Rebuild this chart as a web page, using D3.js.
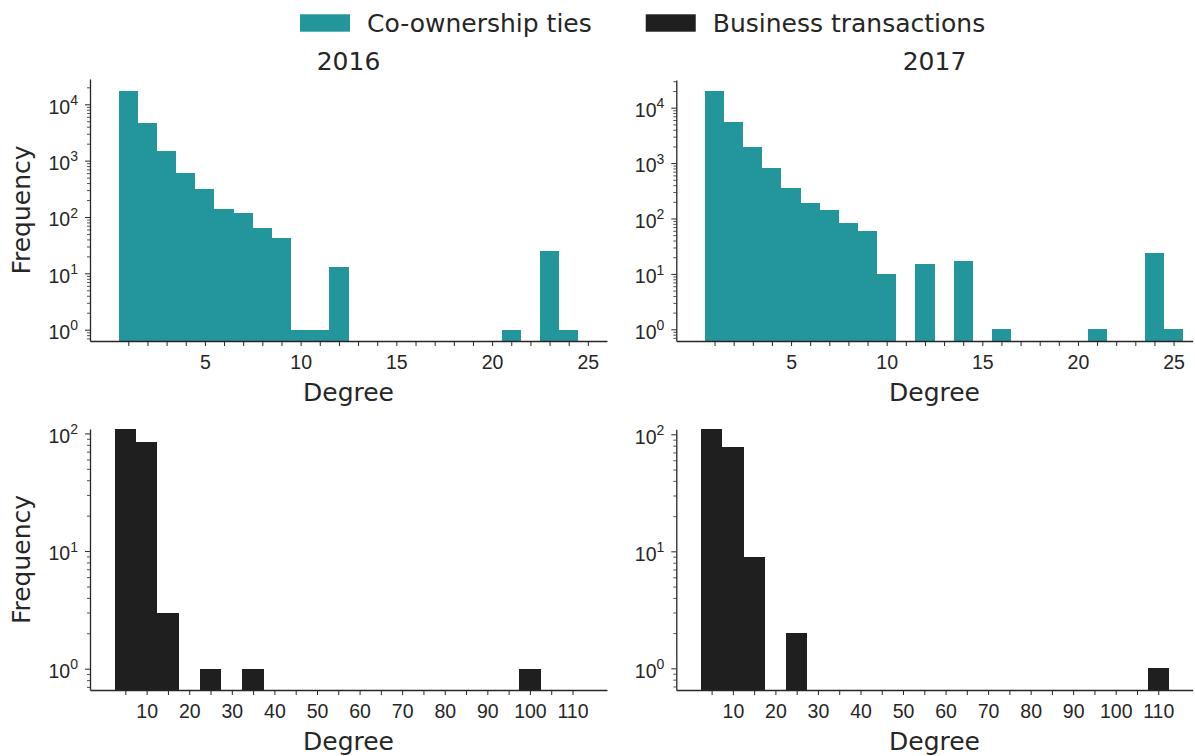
<!DOCTYPE html>
<html>
<head>
<meta charset="utf-8">
<script src="https://cdn.jsdelivr.net/npm/d3@7"></script>
<style>
  body { margin: 0; background: #fff; }
  svg { font-family: "DejaVu Sans", sans-serif; }
</style>
</head>
<body>
<svg id="chart" width="1195" height="756"></svg>
<script>
// co-ownership ties: degree (bin centre) and frequency
const ownDeg2016 = [1, 2, 3, 4, 5, 6, 7, 8, 9, 10, 11, 12, 21, 23, 24];
const ownCnt2016 = [17400, 4600, 1470, 596, 310, 137, 118, 65, 43, 1, 1, 13, 1, 25, 1];
const ownDeg2017 = [1, 2, 3, 4, 5, 6, 7, 8, 9, 10, 12, 14, 16, 21, 24, 25];
const ownCnt2017 = [20300, 5500, 1980, 810, 355, 190, 144, 83, 59, 10, 15, 17, 1, 1, 24, 1];

// business transactions: degree (bin centre) and frequency
const bizDeg2016 = [5, 10, 15, 25, 35, 100];
const bizCnt2016 = [108, 84, 3, 1, 1, 1];
const bizDeg2017 = [5, 10, 15, 25, 110];
const bizCnt2017 = [110, 78, 9, 2, 1];

const years = ["2016", "2017"];
const seriesNames = ["Co-ownership ties", "Business transactions"];
const ownTicks = d3.range(1, 26);
const ownLabels = [5, 10, 15, 20, 25];
const bizTicks = d3.range(5, 111, 5);
const bizLabels = [10, 20, 30, 40, 50, 60, 70, 80, 90, 100, 110];

const teal = "#23969b";
const dark = "#1f1f1f";
const ink = "#262626";

const svg = d3.select("#chart");

const panels = [
  { deg: ownDeg2016, cnt: ownCnt2016, w: 1, color: teal, ticks: ownTicks, labels: ownLabels,
    xd: [-1, 26], yd: [0.63, 28100], x0: 90, x1: 607, y0: 79, y1: 341, title: years[0], ylab: true },
  { deg: ownDeg2017, cnt: ownCnt2017, w: 1, color: teal, ticks: ownTicks, labels: ownLabels,
    xd: [-1, 26], yd: [0.615, 31600], x0: 676.3, x1: 1192.7, y0: 80, y1: 341, title: years[1], ylab: false },
  { deg: bizDeg2016, cnt: bizCnt2016, w: 5, color: dark, ticks: bizTicks, labels: bizLabels,
    xd: [-3.3, 118.1], yd: [0.659, 109], x0: 90, x1: 607, y0: 429, y1: 690, title: null, ylab: true },
  { deg: bizDeg2017, cnt: bizCnt2017, w: 5, color: dark, ticks: bizTicks, labels: bizLabels,
    xd: [-3.3, 118.1], yd: [0.653, 110.4], x0: 676.3, x1: 1192.7, y0: 429.3, y1: 690, title: null, ylab: false },
];

panels.forEach((p) => {
  const x = d3.scaleLinear().domain(p.xd).range([p.x0, p.x1]);
  const y = d3.scaleLog().domain(p.yd).range([p.y1, p.y0]);
  const g = svg.append("g");

  // bars
  g.selectAll("rect")
    .data(p.deg.map((d, i) => ({ d, c: p.cnt[i] })))
    .join("rect")
    .attr("x", (d) => x(d.d - p.w / 2))
    .attr("width", (d) => x(d.d + p.w / 2) - x(d.d - p.w / 2))
    .attr("y", (d) => y(d.c))
    .attr("height", (d) => p.y1 - y(d.c))
    .attr("fill", p.color)
    .attr("shape-rendering", "crispEdges");

  // x axis
  const xAxis = d3.axisBottom(x)
    .tickValues(p.ticks)
    .tickSize(5)
    .tickSizeOuter(0)
    .tickPadding(6)
    .tickFormat((v) => (p.labels.includes(v) ? v : ""));
  const xg = g.append("g").attr("transform", `translate(0,${p.y1})`).call(xAxis);
  xg.select(".domain").attr("stroke", ink).attr("stroke-width", 1.3);
  xg.selectAll(".tick line").attr("stroke", ink).attr("stroke-width", 1);
  xg.selectAll(".tick text")
    .attr("fill", ink)
    .attr("font-size", 19.5)
    .attr("dy", null)
    .attr("y", 27.5);

  // y axis, minor ticks
  const lo = Math.floor(Math.log10(p.yd[0]));
  const hi = Math.ceil(Math.log10(p.yd[1]));
  const minor = [];
  const major = [];
  for (let e = lo; e <= hi; e++) {
    const b = Math.pow(10, e);
    if (b >= p.yd[0] && b <= p.yd[1]) major.push(b);
    for (let k = 2; k <= 9; k++) {
      const v = k * b;
      if (v >= p.yd[0] && v <= p.yd[1]) minor.push(v);
    }
  }
  const ym = g.append("g").attr("transform", `translate(${p.x0},0)`)
    .call(d3.axisLeft(y).tickValues(minor).tickSize(3).tickFormat(() => ""));
  ym.select(".domain").remove();
  ym.selectAll(".tick line").attr("stroke", ink).attr("stroke-width", 0.8);

  const yg = g.append("g").attr("transform", `translate(${p.x0},0)`)
    .call(d3.axisLeft(y).tickValues(major).tickSize(5).tickSizeOuter(0).tickFormat(() => ""));
  yg.select(".domain").attr("stroke", ink).attr("stroke-width", 1.3);
  yg.selectAll(".tick line").attr("stroke", ink).attr("stroke-width", 1);
  yg.selectAll(".tick text").remove();
  yg.selectAll(".tick").each(function (v) {
    const t = d3.select(this).append("text")
      .attr("x", -12)
      .attr("y", 8.8)
      .attr("text-anchor", "end")
      .attr("fill", ink)
      .attr("font-size", 19.5);
    t.append("tspan").text("10");
    t.append("tspan")
      .attr("font-size", 14)
      .attr("dy", -8.6)
      .text(Math.round(Math.log10(v)));
  });

  // labels
  const cx = (p.x0 + p.x1) / 2;
  g.append("text")
    .attr("x", cx)
    .attr("y", p.y1 + 60)
    .attr("text-anchor", "middle")
    .attr("font-size", 25)
    .attr("fill", ink)
    .text("Degree");

  if (p.ylab) {
    g.append("text")
      .attr("transform", `translate(30,${(p.y0 + p.y1) / 2}) rotate(-90)`)
      .attr("text-anchor", "middle")
      .attr("font-size", 25)
      .attr("fill", ink)
      .text("Frequency");
  }

  if (p.title) {
    g.append("text")
      .attr("x", cx)
      .attr("y", 70)
      .attr("text-anchor", "middle")
      .attr("font-size", 25)
      .attr("fill", ink)
      .text(p.title);
  }
});

// legend
const legend = svg.append("g");
let lx = 300;
seriesNames.forEach((name, i) => {
  legend.append("rect")
    .attr("x", lx)
    .attr("y", 14.3)
    .attr("width", 50)
    .attr("height", 17.4)
    .attr("fill", i === 0 ? teal : dark);
  const t = legend.append("text")
    .attr("x", lx + 67)
    .attr("y", 32)
    .attr("font-size", 25)
    .attr("fill", ink)
    .text(name);
  lx = lx + 67 + t.node().getComputedTextLength() + 54;
});
</script>
</body>
</html>
